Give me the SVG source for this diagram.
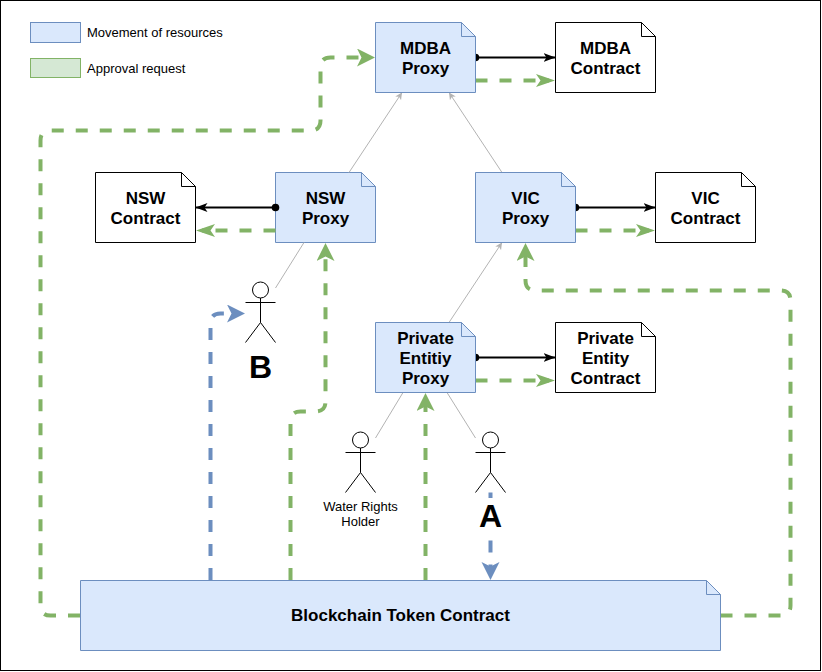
<svg xmlns="http://www.w3.org/2000/svg" width="822" height="672" viewBox="0 0 822 672">
<style>
.n{fill:#dae8fc;stroke:#6c8ebf;stroke-width:1}
.c{fill:#fff;stroke:#000;stroke-width:1}
.f{fill:none;stroke-width:1}
.t{font:bold 17px "Liberation Sans",Arial,sans-serif;text-anchor:middle;fill:#000}
.s{font:13px "Liberation Sans",Arial,sans-serif;fill:#000}
.big{font:bold 32px "Liberation Sans",Arial,sans-serif;text-anchor:middle;fill:#000}
.a{fill:none;stroke:#000;stroke-width:1}
.g{fill:none;stroke:#82b366;stroke-width:4;stroke-dasharray:12 12}
.b{fill:none;stroke:#6c8ebf;stroke-width:4;stroke-dasharray:12 12}
.k{fill:none;stroke:#000;stroke-width:2;marker-start:url(#dot);marker-end:url(#ak)}
.y{fill:none;stroke:#b3b3b3;stroke-width:1}
.ya{marker-end:url(#ay)}
</style>
<defs>
<marker id="ag" markerUnits="userSpaceOnUse" markerWidth="20" markerHeight="20" refX="12" refY="9" orient="auto"><path d="M0,0L18,9L0,18L4.5,9Z" fill="#82b366"/></marker>
<marker id="agn" markerUnits="userSpaceOnUse" markerWidth="20" markerHeight="15" refX="13" refY="6.5" orient="auto"><path d="M0,0L19,6.5L0,13L4.5,6.5Z" fill="#82b366"/></marker>
<marker id="ab" markerUnits="userSpaceOnUse" markerWidth="20" markerHeight="20" refX="12" refY="9" orient="auto"><path d="M0,0L18,9L0,18L4.5,9Z" fill="#6c8ebf"/></marker>
<marker id="ak" markerUnits="userSpaceOnUse" markerWidth="14" markerHeight="12" refX="12" refY="4.5" orient="auto"><path d="M0,0L12,4.5L0,9L3,4.5Z" fill="#000"/></marker>
<marker id="dot" markerUnits="userSpaceOnUse" markerWidth="9" markerHeight="9" refX="4.5" refY="4.5" orient="auto"><circle cx="4.5" cy="4.5" r="3.8" fill="#000"/></marker>
<marker id="ay" markerUnits="userSpaceOnUse" markerWidth="8" markerHeight="8" refX="7" refY="3.5" orient="auto"><path d="M0,0L7,3.5L0,7L1.8,3.5Z" fill="#b3b3b3"/></marker>
</defs>
<rect x="0.5" y="0.5" width="820" height="670" fill="#fff" stroke="#000" stroke-width="1"/>
<g id="legend">
<rect x="30.5" y="22.5" width="50" height="20" class="n"/>
<text x="87" y="37" class="s">Movement of resources</text>
<rect x="30.5" y="58.5" width="50" height="19" fill="#d5e8d4" stroke="#82b366"/>
<text x="87" y="73" class="s">Approval request</text>
</g>
<g id="nsw-proxy">
<path d="M275.5,172.5H361.5L375.5,186.5V242.5H275.5Z" class="n"/><path d="M361.5,172.5V186.5H375.5" class="f" stroke="#6c8ebf"/>
<text x="325.5" y="204" class="t">NSW</text><text x="325.5" y="224" class="t">Proxy</text>
</g>
<g id="connectors">
<path d="M80,615.5H50.5Q40.5,615.5 40.5,605.5V140.5Q40.5,130.5 50.5,130.5H310.5Q320.5,130.5 320.5,120.5V67.5Q320.5,57.5 330.5,57.5H369" class="g" marker-end="url(#ag)"/>
<path d="M290.5,580V421.5Q290.5,411.5 300.5,411.5H315.5Q325.5,411.5 325.5,401.5V249" class="g" marker-end="url(#ag)"/>
<path d="M425.5,580V399" class="g" marker-end="url(#ag)"/>
<path d="M720.5,615.5H780.5Q790.5,615.5 790.5,605.5V300.5Q790.5,290.5 780.5,290.5H535.5Q525.5,290.5 525.5,280.5V249" class="g" marker-end="url(#ag)"/>
<path d="M210.5,580V323.5Q210.5,313.5 220.5,313.5H239" class="b" marker-end="url(#ab)"/>
<path d="M490.5,492.5V574" class="b" marker-end="url(#ab)"/>
<path d="M475.5,57.5H555.5" class="k"/>
<path d="M275.5,207.5H195.5" class="k"/>
<path d="M575.5,207.5H655.5" class="k"/>
<path d="M475.5,357.5H555.5" class="k"/>
<path d="M475.5,80.5H549" class="g" marker-end="url(#agn)"/>
<path d="M275.5,230.5H202" class="g" marker-end="url(#agn)"/>
<path d="M575.5,230.5H649" class="g" marker-end="url(#agn)"/>
<path d="M475.5,380.5H549" class="g" marker-end="url(#agn)"/>
<path d="M349,172.5L402,92.5" class="y ya"/>
<path d="M502,172.5L449,92.5" class="y ya"/>
<path d="M449,322.5L502,242.5" class="y ya"/>
<path d="M304,242.5L275.5,288" class="y"/>
<path d="M403,392.5L375.5,438" class="y"/>
<path d="M447,392.5L475.5,438" class="y"/>
</g>
<g id="mdba-proxy">
<path d="M375.5,22.5H461.5L475.5,36.5V92.5H375.5Z" class="n"/><path d="M461.5,22.5V36.5H475.5" class="f" stroke="#6c8ebf"/>
<text x="425.5" y="54" class="t">MDBA</text><text x="425.5" y="74" class="t">Proxy</text>
</g>
<g id="mdba-contract">
<path d="M555.5,22.5H641.5L655.5,36.5V92.5H555.5Z" class="c"/><path d="M641.5,22.5V36.5H655.5" class="f" stroke="#000"/>
<text x="605.5" y="54" class="t">MDBA</text><text x="605.5" y="74" class="t">Contract</text>
</g>
<g id="nsw-contract">
<path d="M95.5,172.5H181.5L195.5,186.5V242.5H95.5Z" class="c"/><path d="M181.5,172.5V186.5H195.5" class="f" stroke="#000"/>
<text x="145.5" y="204" class="t">NSW</text><text x="145.5" y="224" class="t">Contract</text>
</g>
<g id="vic-proxy">
<path d="M475.5,172.5H561.5L575.5,186.5V242.5H475.5Z" class="n"/><path d="M561.5,172.5V186.5H575.5" class="f" stroke="#6c8ebf"/>
<text x="525.5" y="204" class="t">VIC</text><text x="525.5" y="224" class="t">Proxy</text>
</g>
<g id="vic-contract">
<path d="M655.5,172.5H741.5L755.5,186.5V242.5H655.5Z" class="c"/><path d="M741.5,172.5V186.5H755.5" class="f" stroke="#000"/>
<text x="705.5" y="204" class="t">VIC</text><text x="705.5" y="224" class="t">Contract</text>
</g>
<g id="private-proxy">
<path d="M375.5,322.5H461.5L475.5,336.5V392.5H375.5Z" class="n"/><path d="M461.5,322.5V336.5H475.5" class="f" stroke="#6c8ebf"/>
<text x="425.5" y="344" class="t">Private</text><text x="425.5" y="364" class="t">Entitiy</text><text x="425.5" y="384" class="t">Proxy</text>
</g>
<g id="private-contract">
<path d="M555.5,322.5H641.5L655.5,336.5V392.5H555.5Z" class="c"/><path d="M641.5,322.5V336.5H655.5" class="f" stroke="#000"/>
<text x="605.5" y="344" class="t">Private</text><text x="605.5" y="364" class="t">Entity</text><text x="605.5" y="384" class="t">Contract</text>
</g>
<g id="token-contract">
<path d="M80.5,580.5H706.5L720.5,594.5V650.5H80.5Z" class="n"/><path d="M706.5,580.5V594.5H720.5" class="f" stroke="#6c8ebf"/>
<text x="400.5" y="621" class="t">Blockchain Token Contract</text>
</g>
<g id="actor-b">
<circle cx="260.5" cy="290" r="8" class="a"/><path d="M260.5,298V322.5M245.5,302.5H275.5M260.5,322.5L245.5,342.5M260.5,322.5L275.5,342.5" class="a"/>
<text x="260.5" y="378" class="big">B</text>
</g>
<g id="actor-water">
<circle cx="360.5" cy="440" r="8" class="a"/><path d="M360.5,448V472.5M345.5,452.5H375.5M360.5,472.5L345.5,492.5M360.5,472.5L375.5,492.5" class="a"/>
<text x="360.5" y="511" class="s" text-anchor="middle">Water Rights</text><text x="360.5" y="526" class="s" text-anchor="middle">Holder</text>
</g>
<g id="actor-a">
<circle cx="490.5" cy="440" r="8" class="a"/><path d="M490.5,448V472.5M475.5,452.5H505.5M490.5,472.5L475.5,492.5M490.5,472.5L505.5,492.5" class="a"/>
<rect x="478" y="498" width="25" height="34" fill="#fff"/>
<text x="490.5" y="527" class="big">A</text>
</g>
</svg>
